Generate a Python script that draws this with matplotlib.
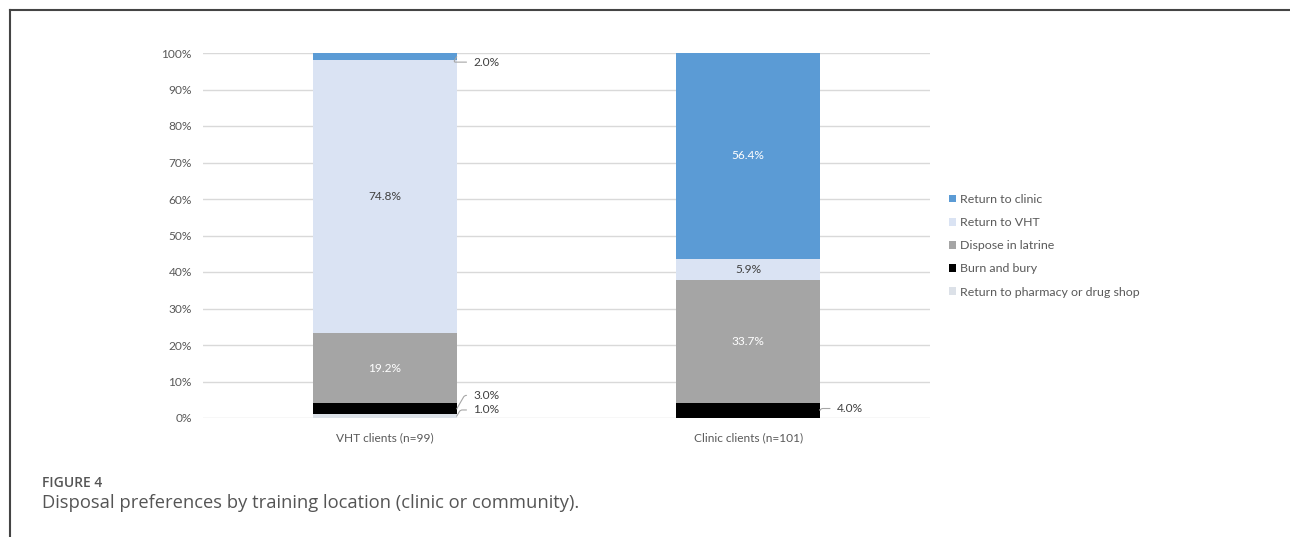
import matplotlib
matplotlib.use("Agg")
import matplotlib.pyplot as plt
from matplotlib.lines import Line2D
import numpy as np

plt.rcParams['font.family'] = ['Lato', 'DejaVu Sans']

categories = ["VHT clients (n=99)", "Clinic clients (n=101)"]
series_names = ["Return to pharmacy or drug shop", "Burn and bury", "Dispose in latrine",
                "Return to VHT", "Return to clinic"]
pharmacy = [1.0, 0.0]
burn = [3.0, 4.0]
latrine = [19.2, 33.7]
vht = [74.8, 5.9]
clinic = [2.0, 56.4]
yticks = [0, 10, 20, 30, 40, 50, 60, 70, 80, 90, 100]
ytick_labels = ["0%", "10%", "20%", "30%", "40%", "50%", "60%", "70%", "80%", "90%", "100%"]

colors = {"Return to clinic": "#5B9BD5", "Return to VHT": "#DAE3F3",
          "Dispose in latrine": "#A5A5A5", "Burn and bury": "#000000",
          "Return to pharmacy or drug shop": "#DCE1E8"}

W, H = 1290, 537
fig = plt.figure(figsize=(W / 100, H / 100), dpi=100)
ax = fig.add_axes([203 / W, 1 - 418 / H, (930 - 203) / W, (418 - 53) / H])

x = np.arange(len(categories))
width = 0.396
data = [pharmacy, burn, latrine, vht, clinic]
bottom = np.zeros(len(categories))
bars = {}
for name, vals in zip(series_names, data):
    vals = np.array(vals)
    bars[name] = ax.bar(x, vals, width, bottom=bottom, color=colors[name], zorder=3,
                        label=name, linewidth=0)
    bottom = bottom + vals

ax.set_xlim(-0.5, 1.5)
ax.set_ylim(0, 100)
ax.set_yticks(yticks)
ax.set_yticklabels(ytick_labels)
ax.set_xticks(x)
ax.set_xticklabels(categories)
ax.tick_params(axis='both', length=0, labelsize=8.6, labelcolor="#595959")
ax.tick_params(axis='y', pad=8)
ax.tick_params(axis='x', pad=10)
ax.grid(axis='y', color="#D9D9D9", linewidth=1, zorder=0)
for s in ax.spines.values():
    s.set_visible(False)

# Inside labels
def inside(i, bot, val, color):
    ax.text(x[i], bot + val / 2, f"{val:.1f}%", ha='center', va='center', fontsize=8.6,
            color=color, zorder=5)

inside(0, pharmacy[0] + burn[0], latrine[0], "white")
inside(0, pharmacy[0] + burn[0] + latrine[0], vht[0], "#404040")
inside(1, pharmacy[1] + burn[1], latrine[1], "white")
inside(1, pharmacy[1] + burn[1] + latrine[1], vht[1], "#404040")
inside(1, pharmacy[1] + burn[1] + latrine[1] + vht[1], clinic[1], "white")

# Outside labels with leader lines
def outside(i, ymid, ytext, val):
    xr = x[i] + width / 2
    ax.annotate(f"{val:.1f}%", xy=(xr, ymid), xytext=(xr + 0.046, ytext),
                textcoords='data', ha='left', va='center', fontsize=8.6, color="#404040",
                arrowprops=dict(arrowstyle='-', color="#A6A6A6", lw=0.8,
                                shrinkA=3, shrinkB=0,
                                connectionstyle="angle,angleA=0,angleB=60,rad=2"),
                zorder=6)

outside(0, 100 - clinic[0] / 2, 97.5, clinic[0])
outside(0, pharmacy[0] + burn[0] / 2, 6.2, burn[0])
outside(0, pharmacy[0] / 2, 2.2, pharmacy[0])
outside(1, burn[1] / 2 + 0.3, 2.6, burn[1])

# Legend
order = ["Return to clinic", "Return to VHT", "Dispose in latrine", "Burn and bury",
         "Return to pharmacy or drug shop"]
handles = [bars[n][0] for n in order]
leg = fig.legend(handles, order, loc='upper left', bbox_to_anchor=(938 / W, 1 - 183 / H),
                 frameon=False, fontsize=8.9, handlelength=0.55, handleheight=0.55,
                 handletextpad=0.3, labelspacing=0.98, labelcolor="#595959")

# Frame lines
fig.add_artist(Line2D([10 / W, 1], [1 - 10 / H, 1 - 10 / H], color="#444444", lw=1.5))
fig.add_artist(Line2D([10 / W, 10 / W], [0, 1 - 10 / H], color="#444444", lw=1.5))

# Caption
fig.text(42 / W, 1 - 483 / H, "FIGURE 4", fontsize=10, color="#555555", va='center',
         family=['Open Sans', 'DejaVu Sans'], fontweight='semibold')
fig.text(42 / W, 1 - 503 / H, "Disposal preferences by training location (clinic or community).",
         fontsize=13.2, color="#555555", va='center', family=['Open Sans', 'DejaVu Sans'])

fig.savefig("out.png", dpi=100)
